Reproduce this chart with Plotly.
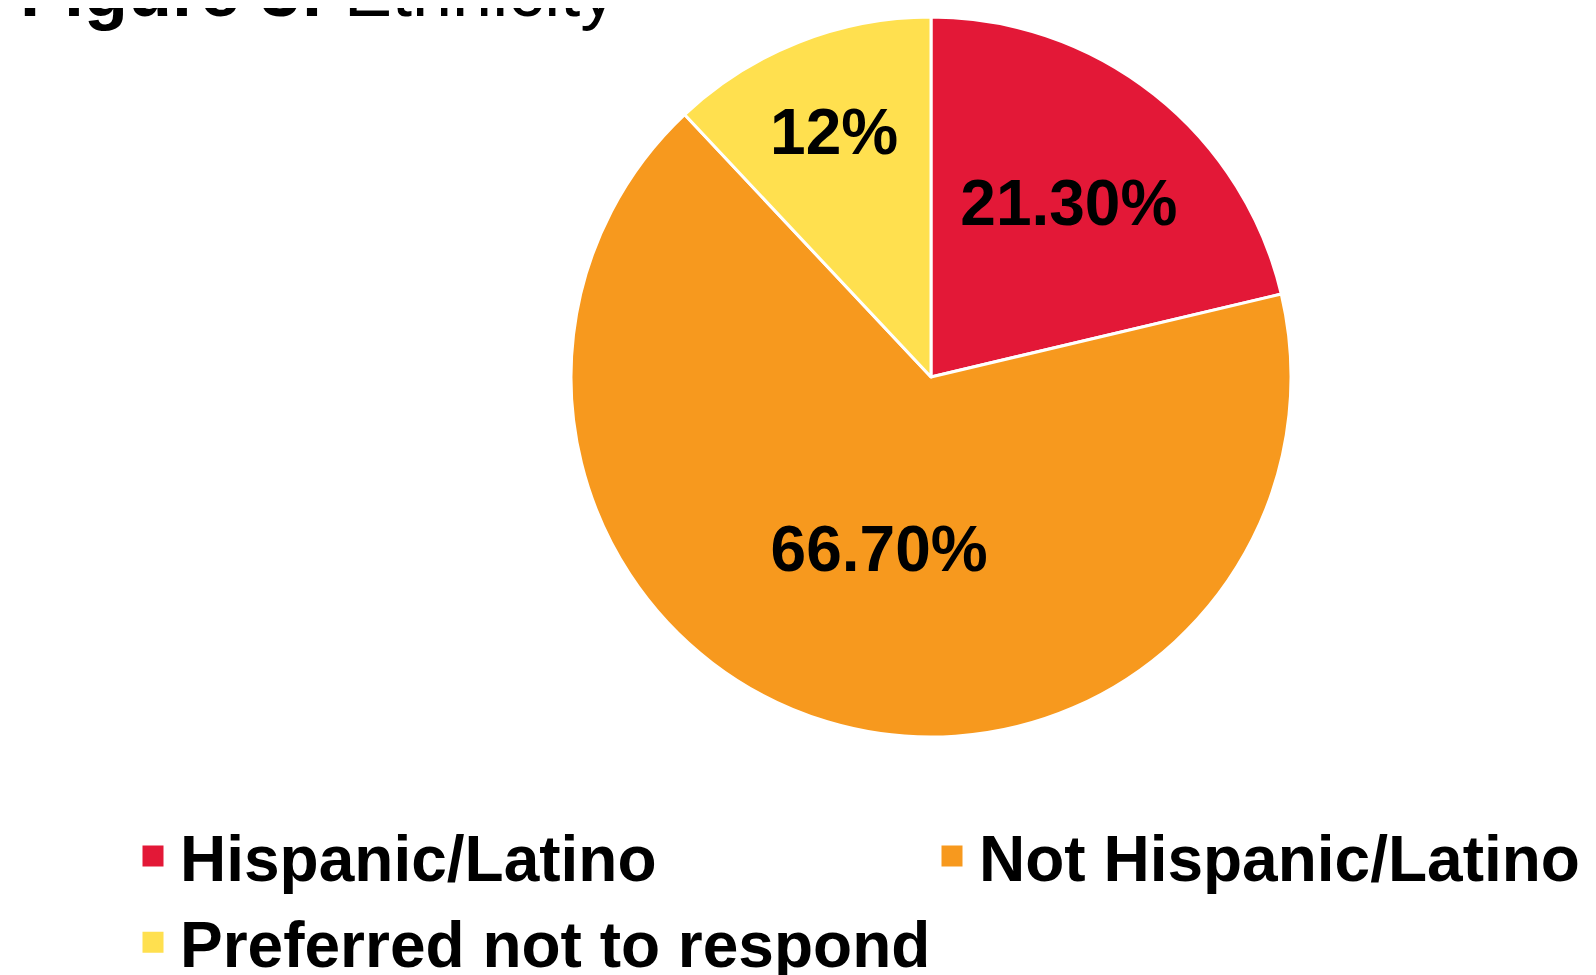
import plotly.graph_objects as go

categories = ["Hispanic/Latino", "Not Hispanic/Latino", "Preferred not to respond"]
values = [21.3, 66.7, 12.0]
value_labels = ["21.30%", "66.70%", "12%"]
colors = ["#E31837", "#F7991E", "#FFE04F"]

FONT = "Arial, Liberation Sans, sans-serif"

fig = go.Figure()
fig.add_trace(go.Pie(
    labels=categories,
    values=values,
    text=value_labels,
    textinfo="text",
    textposition="inside",
    insidetextorientation="horizontal",
    sort=False,
    direction="clockwise",
    rotation=0,
    marker=dict(colors=colors, line=dict(color="white", width=3)),
    textfont=dict(family=FONT, size=64, color="black", weight="bold"),
    domain=dict(x=[563/1596, 1283/1596], y=[1-729/975, 1-9/975]),
    showlegend=False,
    hoverinfo="label+text",
))

# legend entries (square swatches)
for cat, col in zip(categories, colors):
    fig.add_trace(go.Scatter(
        x=[None], y=[None], mode="markers", name=cat,
        marker=dict(symbol="square", size=16, color=col, line=dict(color=col, width=5)),
    ))

fig.update_layout(
    width=1596, height=975,
    margin=dict(l=0, r=0, t=0, b=0, autoexpand=False),
    paper_bgcolor="white", plot_bgcolor="white",
    xaxis=dict(visible=False), yaxis=dict(visible=False),
    title=dict(
        text="<b>Figure 3:</b> Ethnicity",
        font=dict(family=FONT, size=72, color="black"),
        x=12/1596, xanchor="left", xref="container",
        y=1-8/975, yanchor="bottom", yref="container",
    ),
    legend=dict(
        orientation="h",
        x=118/1596, xanchor="left", xref="container",
        y=1-800/975, yanchor="top", yref="container",
        entrywidth=740, entrywidthmode="pixels",
        itemwidth=44,
        font=dict(family=FONT, size=64, color="black", weight="bold"),
        traceorder="normal",
        itemclick=False,
    ),
)

fig.write_html("out.html")
